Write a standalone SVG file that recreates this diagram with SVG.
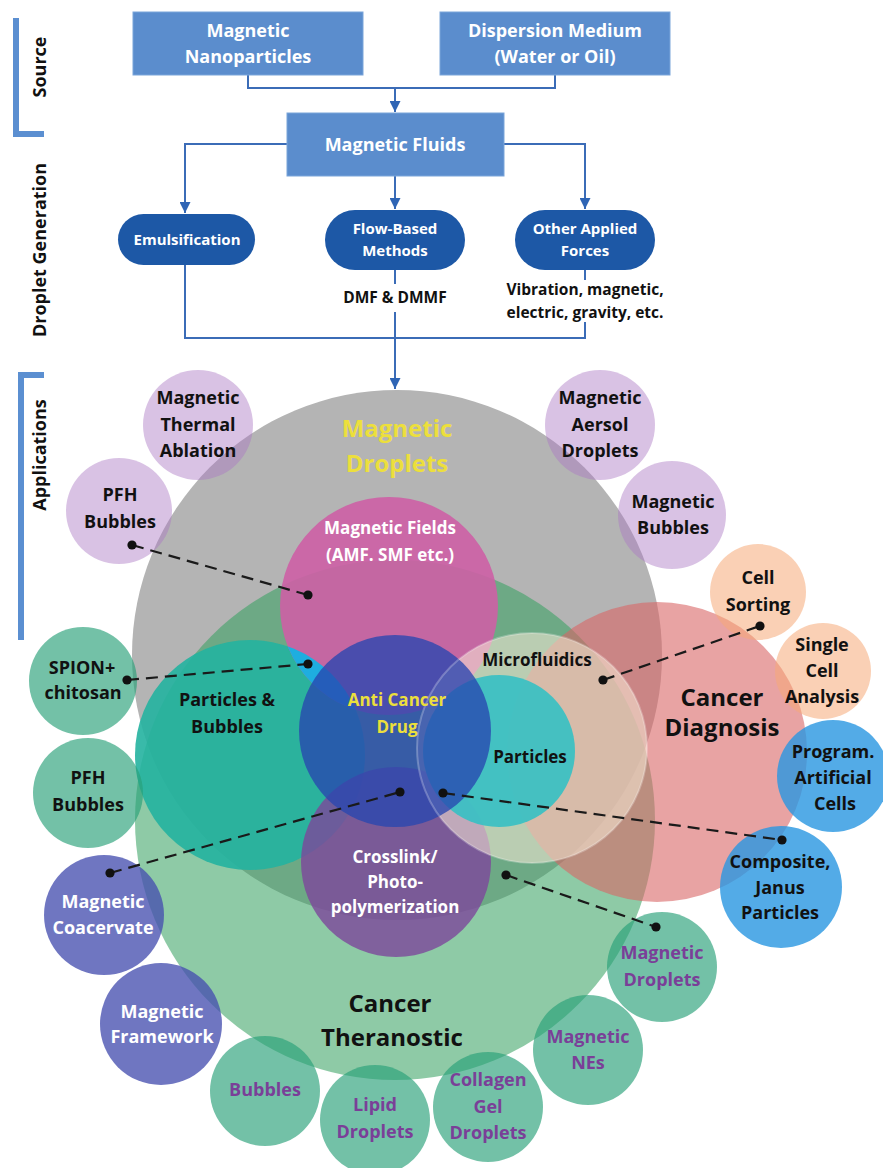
<svg xmlns="http://www.w3.org/2000/svg" width="883" height="1168" viewBox="0 0 883 1168">
  <defs>
    <style>
      .f { font-family: "Open Sans", "Liberation Sans", sans-serif; font-weight: 700; text-anchor: middle; }
      .wt { fill: #ffffff; }
      .bk { fill: #111111; }
      .pu { fill: #7a3f98; }
      .ye { fill: #ecdf3c; }
      .s18 { font-size: 18px; }
      .s17 { font-size: 17px; }
      .s15 { font-size: 15.5px; }
      .s14 { font-size: 15px; }
      .s24 { font-size: 24px; }
      .box { fill: #5b8dcd; stroke: #7ba5da; stroke-width: 1; }
      .pill { fill: #1d58a6; }
      .flow { fill: none; stroke: #3b6cb7; stroke-width: 2; }
      .bracket { fill: none; stroke: #5b8fd1; stroke-width: 6; }
      .dash { fill: none; stroke: #1a1a1a; stroke-width: 2.2; stroke-dasharray: 12 7; }
      .lav { fill: #aa78c3; fill-opacity: 0.45; }
      .tea { fill: #28a078; fill-opacity: 0.65; }
      .ind { fill: #4650af; fill-opacity: 0.78; }
      .sky { fill: #2896e1; fill-opacity: 0.8; }
      .pch { fill: #f5aa78; fill-opacity: 0.55; }
    </style>
    <marker id="arrow" viewBox="0 0 10 10" refX="10" refY="5" markerWidth="11" markerHeight="11" markerUnits="userSpaceOnUse" orient="auto">
      <path d="M0,0 L10,5 L0,10 Z" fill="#2f65b5"/>
    </marker>
    <marker id="dot" viewBox="0 0 10 10" refX="5" refY="5" markerWidth="10" markerHeight="10" markerUnits="userSpaceOnUse">
      <circle cx="5" cy="5" r="4.6" fill="#111111"/>
    </marker>
    <clipPath id="mfClip">
      <circle cx="389" cy="606" r="109"/>
    </clipPath>
  </defs>

  <rect width="883" height="1168" fill="#ffffff"/>

  <!-- stage labels on the left -->
  <g id="stage-labels">
    <path class="bracket" d="M16,18 V134 H44"/>
    <path class="bracket" d="M21,640 V375 H44"/>
    <text class="f bk s18" transform="translate(46,67) rotate(-90)">Source</text>
    <text class="f bk s18" transform="translate(46,250) rotate(-90)">Droplet Generation</text>
    <text class="f bk s18" transform="translate(46,455) rotate(-90)">Applications</text>
  </g>

  <!-- flowchart connectors -->
  <g id="flow-connectors">
    <path class="flow" d="M248,75 V88 H555 V75"/>
    <path class="flow" d="M395,88 V112" marker-end="url(#arrow)"/>
    <path class="flow" d="M287,144 H185 V213" marker-end="url(#arrow)"/>
    <path class="flow" d="M504,144 H585 V209" marker-end="url(#arrow)"/>
    <path class="flow" d="M395,176 V209" marker-end="url(#arrow)"/>
    <path class="flow" d="M185,265 V338 H585 V322"/>
    <path class="flow" d="M585,270 V280"/>
    <path class="flow" d="M395,270 V284"/>
    <path class="flow" d="M395,312 V389" marker-end="url(#arrow)"/>
  </g>

  <g id="magnetic-nanoparticles">
    <rect class="box" x="133" y="12" width="230" height="63"/>
    <text class="f wt s18" x="248" y="37">Magnetic</text>
    <text class="f wt s18" x="248" y="63">Nanoparticles</text>
  </g>
  <g id="dispersion-medium">
    <rect class="box" x="440" y="12" width="230" height="63"/>
    <text class="f wt s18" x="555" y="37">Dispersion Medium</text>
    <text class="f wt s18" x="555" y="63">(Water or Oil)</text>
  </g>
  <g id="magnetic-fluids">
    <rect class="box" x="287" y="113" width="217" height="63"/>
    <text class="f wt s18" x="395" y="151">Magnetic Fluids</text>
  </g>
  <g id="emulsification">
    <rect class="pill" x="118" y="214" width="137" height="51" rx="25.5"/>
    <text class="f wt s14" x="187" y="245">Emulsification</text>
  </g>
  <g id="flow-based">
    <rect class="pill" x="325" y="210" width="140" height="60" rx="30"/>
    <text class="f wt s14" x="395" y="234">Flow-Based</text>
    <text class="f wt s14" x="395" y="256">Methods</text>
    <text class="f bk s15" x="395" y="303">DMF &amp; DMMF</text>
  </g>
  <g id="other-forces">
    <rect class="pill" x="515" y="210" width="140" height="60" rx="30"/>
    <text class="f wt s14" x="585" y="234">Other Applied</text>
    <text class="f wt s14" x="585" y="256">Forces</text>
    <text class="f bk s15" x="585" y="295">Vibration, magnetic,</text>
    <text class="f bk s15" x="585" y="318">electric, gravity, etc.</text>
  </g>

  <!-- application circles -->
  <g id="magnetic-droplets">
    <circle cx="397" cy="655" r="265" fill="#b4b4b4"/>
    <text class="f ye s24" x="397" y="437">Magnetic</text>
    <text class="f ye s24" x="397" y="472">Droplets</text>
  </g>
  <g id="cancer-theranostic">
    <circle cx="395" cy="820" r="260" fill="#35a060" fill-opacity="0.56"/>
    <text class="f bk s24" x="390" y="1012">Cancer</text>
    <text class="f bk s24" x="392" y="1046">Theranostic</text>
  </g>
  <g id="cancer-diagnosis">
    <circle cx="657" cy="752" r="150" fill="#d96666" fill-opacity="0.6"/>
    <text class="f bk s24" x="722" y="706">Cancer</text>
    <text class="f bk s24" x="722" y="736">Diagnosis</text>
  </g>
  <g id="particles-bubbles">
    <circle cx="250" cy="755" r="115" fill="#23b2a0" fill-opacity="0.9"/>
    <text class="f bk s18" x="227" y="706">Particles &amp;</text>
    <text class="f bk s18" x="227" y="733">Bubbles</text>
  </g>
  <g id="magnetic-fields">
    <circle cx="389" cy="606" r="109" fill="#cd5fa5" fill-opacity="0.9"/>
    <circle cx="250" cy="755" r="115" fill="#1eaee0" clip-path="url(#mfClip)"/>
    <text class="f wt s17" x="390" y="534">Magnetic Fields</text>
    <text class="f wt s17" x="390" y="561">(AMF. SMF etc.)</text>
  </g>
  <g id="crosslink">
    <circle cx="396" cy="862" r="95" fill="#7d469b" fill-opacity="0.8"/>
    <text class="f wt s17" x="395" y="863">Crosslink/</text>
    <text class="f wt s17" x="395" y="888">Photo-</text>
    <text class="f wt s17" x="395" y="913">polymerization</text>
  </g>
  <g id="microfluidics">
    <circle cx="532" cy="748" r="115" fill="#faebd7" fill-opacity="0.55"/>
    <text class="f bk s17" x="537" y="666">Microfluidics</text>
  </g>
  <g id="particles">
    <circle cx="499" cy="751" r="76" fill="#38c0c3" fill-opacity="0.92"/>
    <text class="f bk s17" x="530" y="763">Particles</text>
  </g>
  <g id="anti-cancer-drug">
    <circle cx="395" cy="731" r="96" fill="#2846af" fill-opacity="0.78"/>
    <circle cx="532" cy="748" r="115" fill="none" stroke="#ffffff" stroke-opacity="0.25" stroke-width="2"/>
    <text class="f ye s17" x="397" y="706">Anti Cancer</text>
    <text class="f ye s17" x="397" y="733">Drug</text>
  </g>

  <!-- satellite circles -->
  <g id="thermal-ablation">
    <circle class="lav" cx="198" cy="425" r="55"/>
    <text class="f bk s18" x="198" y="404">Magnetic</text>
    <text class="f bk s18" x="198" y="431">Thermal</text>
    <text class="f bk s18" x="198" y="457">Ablation</text>
  </g>
  <g id="pfh-bubbles-purple">
    <circle class="lav" cx="119" cy="511" r="53"/>
    <text class="f bk s18" x="120" y="501">PFH</text>
    <text class="f bk s18" x="120" y="528">Bubbles</text>
  </g>
  <g id="aersol-droplets">
    <circle class="lav" cx="600" cy="425" r="55"/>
    <text class="f bk s18" x="600" y="404">Magnetic</text>
    <text class="f bk s18" x="600" y="431">Aersol</text>
    <text class="f bk s18" x="600" y="457">Droplets</text>
  </g>
  <g id="magnetic-bubbles">
    <circle class="lav" cx="672" cy="515" r="54"/>
    <text class="f bk s18" x="673" y="508">Magnetic</text>
    <text class="f bk s18" x="673" y="534">Bubbles</text>
  </g>
  <g id="cell-sorting">
    <circle class="pch" cx="758" cy="592" r="48"/>
    <text class="f bk s18" x="758" y="584">Cell</text>
    <text class="f bk s18" x="758" y="611">Sorting</text>
  </g>
  <g id="single-cell">
    <circle class="pch" cx="823" cy="671" r="48"/>
    <text class="f bk s18" x="822" y="651">Single</text>
    <text class="f bk s18" x="822" y="677">Cell</text>
    <text class="f bk s18" x="822" y="703">Analysis</text>
  </g>
  <g id="artificial-cells">
    <circle class="sky" cx="833" cy="776" r="56"/>
    <text class="f bk s18" x="833" y="758">Program.</text>
    <text class="f bk s18" x="833" y="784">Artificial</text>
    <text class="f bk s18" x="835" y="810">Cells</text>
  </g>
  <g id="janus-particles">
    <circle class="sky" cx="781" cy="887" r="61"/>
    <text class="f bk s18" x="780" y="868">Composite,</text>
    <text class="f bk s18" x="780" y="894">Janus</text>
    <text class="f bk s18" x="780" y="919">Particles</text>
  </g>
  <g id="spion-chitosan">
    <circle class="tea" cx="83" cy="681" r="54"/>
    <text class="f bk s18" x="82" y="674">SPION+</text>
    <text class="f bk s18" x="83" y="699">chitosan</text>
  </g>
  <g id="pfh-bubbles-teal">
    <circle class="tea" cx="88" cy="793" r="55"/>
    <text class="f bk s18" x="88" y="784">PFH</text>
    <text class="f bk s18" x="88" y="811">Bubbles</text>
  </g>
  <g id="coacervate">
    <circle class="ind" cx="104" cy="915" r="60"/>
    <text class="f wt s18" x="103" y="908">Magnetic</text>
    <text class="f wt s18" x="103" y="934">Coacervate</text>
  </g>
  <g id="framework">
    <circle class="ind" cx="161" cy="1024" r="61"/>
    <text class="f wt s18" x="162" y="1018">Magnetic</text>
    <text class="f wt s18" x="162" y="1043">Framework</text>
  </g>
  <g id="bubbles">
    <circle class="tea" cx="265" cy="1091" r="55"/>
    <text class="f pu s18" x="265" y="1096">Bubbles</text>
  </g>
  <g id="lipid-droplets">
    <circle class="tea" cx="375" cy="1120" r="55"/>
    <text class="f pu s18" x="375" y="1111">Lipid</text>
    <text class="f pu s18" x="375" y="1138">Droplets</text>
  </g>
  <g id="collagen-droplets">
    <circle class="tea" cx="488" cy="1107" r="55"/>
    <text class="f pu s18" x="488" y="1086">Collagen</text>
    <text class="f pu s18" x="488" y="1113">Gel</text>
    <text class="f pu s18" x="488" y="1139">Droplets</text>
  </g>
  <g id="magnetic-nes">
    <circle class="tea" cx="588" cy="1050" r="55"/>
    <text class="f pu s18" x="588" y="1043">Magnetic</text>
    <text class="f pu s18" x="588" y="1069">NEs</text>
  </g>
  <g id="magnetic-droplets-small">
    <circle class="tea" cx="662" cy="967" r="55"/>
    <text class="f pu s18" x="662" y="959">Magnetic</text>
    <text class="f pu s18" x="662" y="986">Droplets</text>
  </g>

  <!-- dashed links between satellites and the nested circles -->
  <g id="links">
    <path class="dash" d="M132,545 L308,595" marker-start="url(#dot)" marker-end="url(#dot)"/>
    <path class="dash" d="M127,680 L308,664" marker-start="url(#dot)" marker-end="url(#dot)"/>
    <path class="dash" d="M603,680 L760,626" marker-start="url(#dot)" marker-end="url(#dot)"/>
    <path class="dash" d="M110,873 L400,792" marker-start="url(#dot)" marker-end="url(#dot)"/>
    <path class="dash" d="M443,793 L782,840" marker-start="url(#dot)" marker-end="url(#dot)"/>
    <path class="dash" d="M506,875 L656,927" marker-start="url(#dot)" marker-end="url(#dot)"/>
  </g>
</svg>
